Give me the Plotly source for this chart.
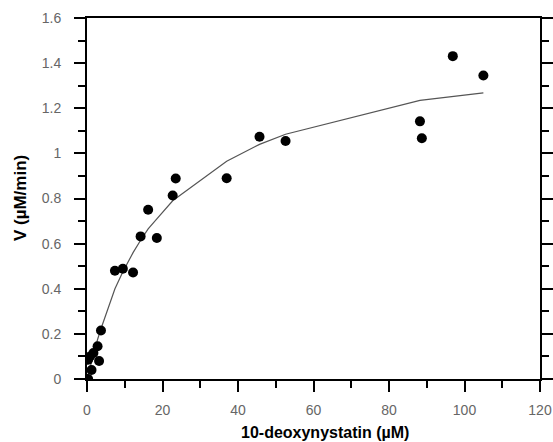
import plotly.graph_objects as go

# Observed data points
conc = [0.3, 1.2, 0.3, 0.8, 1.7, 2.8, 3.2, 3.7, 7.4, 9.5, 12.2, 14.2, 16.2, 18.5,
        22.7, 23.5, 37.0, 45.7, 52.6, 88.2, 88.7, 96.9, 105.0]
rate = [0.0, 0.04, 0.085, 0.10, 0.115, 0.145, 0.08, 0.215, 0.48, 0.489, 0.472, 0.632,
        0.75, 0.625, 0.813, 0.889, 0.89, 1.074, 1.055, 1.142, 1.067, 1.431, 1.345]

# Fitted curve
fit_x = [0.3, 1.2, 1.7, 2.8, 3.7, 7.4, 9.5, 12.2, 14.2, 16.2, 18.5, 22.7, 23.5,
         37.0, 45.7, 52.6, 88.2, 96.9, 105.0]
fit_y = [0.02, 0.08, 0.11, 0.175, 0.223, 0.40, 0.475, 0.56, 0.615, 0.665, 0.71, 0.79,
         0.80, 0.965, 1.04, 1.085, 1.235, 1.252, 1.268]

x_ticks = [0, 20, 40, 60, 80, 100, 120]
y_ticks = [0, 0.2, 0.4, 0.6, 0.8, 1, 1.2, 1.4, 1.6]
y_tick_labels = ["0", "0.2", "0.4", "0.6", "0.8", "1", "1.2", "1.4", "1.6"]
x_title = "10-deoxynystatin (µM)"
y_title = "V (µM/min)"

fig = go.Figure()
fig.add_trace(go.Scatter(x=fit_x, y=fit_y, mode="lines",
                         line=dict(color="#555555", width=1.2), hoverinfo="skip"))
fig.add_trace(go.Scatter(x=conc, y=rate, mode="markers",
                         marker=dict(color="black", size=10, line=dict(width=0))))

tickfont = dict(family="Liberation Sans, Arial, sans-serif", size=14, color="#666666")
titlefont = dict(family="Liberation Sans, Arial, sans-serif", size=16, color="black",
                 weight="bold")

fig.update_layout(
    width=553, height=442,
    margin=dict(l=87, r=13, t=18, b=63, autoexpand=False),
    paper_bgcolor="white", plot_bgcolor="white",
    showlegend=False,
    xaxis=dict(range=[0, 120], tickvals=x_ticks, ticktext=[str(v) for v in x_ticks],
               automargin=False,
               showgrid=False, zeroline=False, showline=True, linecolor="black",
               linewidth=2, mirror=True, ticks="outside", ticklen=11, tickwidth=2,
               tickcolor="black",
               minor=dict(dtick=10, ticks="outside", ticklen=7, tickwidth=2,
                          tickcolor="black", showgrid=False),
               tickfont=tickfont, ticklabelstandoff=6),
    yaxis=dict(range=[0, 1.6], tickvals=y_ticks, ticktext=y_tick_labels,
               automargin=False,
               showgrid=False, zeroline=False, showline=True, linecolor="black",
               linewidth=2, mirror="ticks", ticks="outside", ticklen=11, tickwidth=2,
               tickcolor="black",
               minor=dict(dtick=0.1, ticks="outside", ticklen=7, tickwidth=2,
                          tickcolor="black", showgrid=False),
               tickfont=tickfont, ticklabelstandoff=10),
    annotations=[
        dict(text=x_title, xref="paper", yref="paper", x=0.525, y=-0.147,
             xanchor="center", yanchor="middle", showarrow=False, font=titlefont),
        dict(text=y_title, xref="paper", yref="paper", x=-0.148, y=0.501,
             xanchor="center", yanchor="middle", showarrow=False, textangle=-90,
             font=dict(family="Liberation Sans, Arial, sans-serif", size=17,
                       color="black", weight="bold")),
    ],
)

fig.write_html("out.html", config={"displayModeBar": False},
               post_script="document.body.style.margin='0';document.body.style.overflow='hidden';")
